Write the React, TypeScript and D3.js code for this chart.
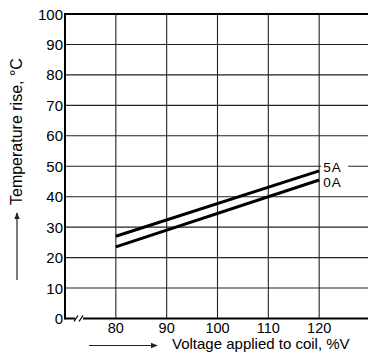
import React from "react";
import * as d3 from "d3";

const voltage = [80, 120];
const temp5A = [27, 48.5];
const temp0A = [23.5, 45.5];
const seriesNames = ["5A", "0A"];
const xTicks = [80, 90, 100, 110, 120];
const yTicks = [0, 10, 20, 30, 40, 50, 60, 70, 80, 90, 100];
const xTitle = "Voltage applied to coil, %V";
const yTitle = "Temperature rise, °C";

export default function App() {
  const W = 368, H = 356;
  const x = d3.scaleLinear().domain([70, 130]).range([65, 370]);
  const y = d3.scaleLinear().domain([0, 100]).range([318.5, 14]);
  const font = "Liberation Sans, Arial, Helvetica, sans-serif";
  const line = d3.line<[number, number]>().x(d => x(d[0])).y(d => y(d[1]));
  const series = [temp5A, temp0A].map(vals => voltage.map((v, i) => [v, vals[i]] as [number, number]));
  const gridColor = "#222";
  return (
    <svg width={W} height={H} style={{ position: "absolute", left: 0, top: 0, background: "#fff" }}>
      <defs>
        <marker id="arr" viewBox="0 0 10 10" refX="9" refY="5" markerWidth="6" markerHeight="6" orient="auto">
          <path d="M0,1 L10,5 L0,9 z" fill="#222" />
        </marker>
      </defs>
      {yTicks.filter(t => t > 0 && t < 100).map(t => (
        <line key={"gy" + t} x1={x(70)} x2={W} y1={y(t)} y2={y(t)} stroke={gridColor} strokeWidth={1.1} />
      ))}
      {xTicks.map(t => (
        <line key={"gx" + t} x1={x(t)} x2={x(t)} y1={y(0)} y2={y(100)} stroke={gridColor} strokeWidth={1.1} />
      ))}
      {/* axes */}
      <line x1={x(70)} x2={W} y1={y(100)} y2={y(100)} stroke="#000" strokeWidth={2} />
      <line x1={x(70)} x2={W} y1={y(0)} y2={y(0)} stroke="#000" strokeWidth={2} />
      <line x1={x(70)} x2={x(70)} y1={y(0) + 1} y2={y(100) - 1} stroke="#000" strokeWidth={2} />
      {/* axis break */}
      <rect x={75} y={y(0) - 3} width={8} height={6} fill="#fff" />
      <line x1={74} x2={78} y1={y(0) + 3} y2={y(0) - 3} stroke="#000" strokeWidth={1.3} />
      <line x1={79} x2={83} y1={y(0) + 3} y2={y(0) - 3} stroke="#000" strokeWidth={1.3} />
      {/* series */}
      {series.map((s, i) => (
        <path key={"s" + i} d={line(s) || ""} fill="none" stroke="#000" strokeWidth={3} />
      ))}
      {/* series labels */}
      {seriesNames.map((n, i) => {
        const last = series[i][series[i].length - 1];
        const ly = y(50) + i * 15.2;
        return (
          <g key={"l" + n}>
            <rect x={x(last[0]) + 2} y={ly - 7} width={27} height={14} fill="#fff" />
            <text x={x(last[0]) + 4} y={ly + 6} fontFamily={font} fontSize={13.5} letterSpacing={1} fill="#000">{n}</text>
          </g>
        );
      })}
      {/* y tick labels */}
      {yTicks.map(t => (
        <text key={"ty" + t} x={63} y={y(t) + 5.5} textAnchor="end" fontFamily={font} fontSize={15} fill="#000">{t}</text>
      ))}
      {/* x tick labels */}
      {xTicks.map(t => (
        <text key={"tx" + t} x={x(t)} y={332.5} textAnchor="middle" fontFamily={font} fontSize={14.5} fill="#000">{t}</text>
      ))}
      {/* x title */}
      <line x1={89} x2={157} y1={345.5} y2={345.5} stroke="#222" strokeWidth={1.2} markerEnd="url(#arr)" />
      <text x={172} y={349} fontFamily={font} fontSize={15} fill="#000">{xTitle}</text>
      {/* y title */}
      <line x1={17} x2={17} y1={280} y2={213} stroke="#222" strokeWidth={1.2} markerEnd="url(#arr)" />
      <text transform={`translate(22,${205}) rotate(-90)`} fontFamily={font} fontSize={16} fill="#000">{yTitle}</text>
    </svg>
  );
}
